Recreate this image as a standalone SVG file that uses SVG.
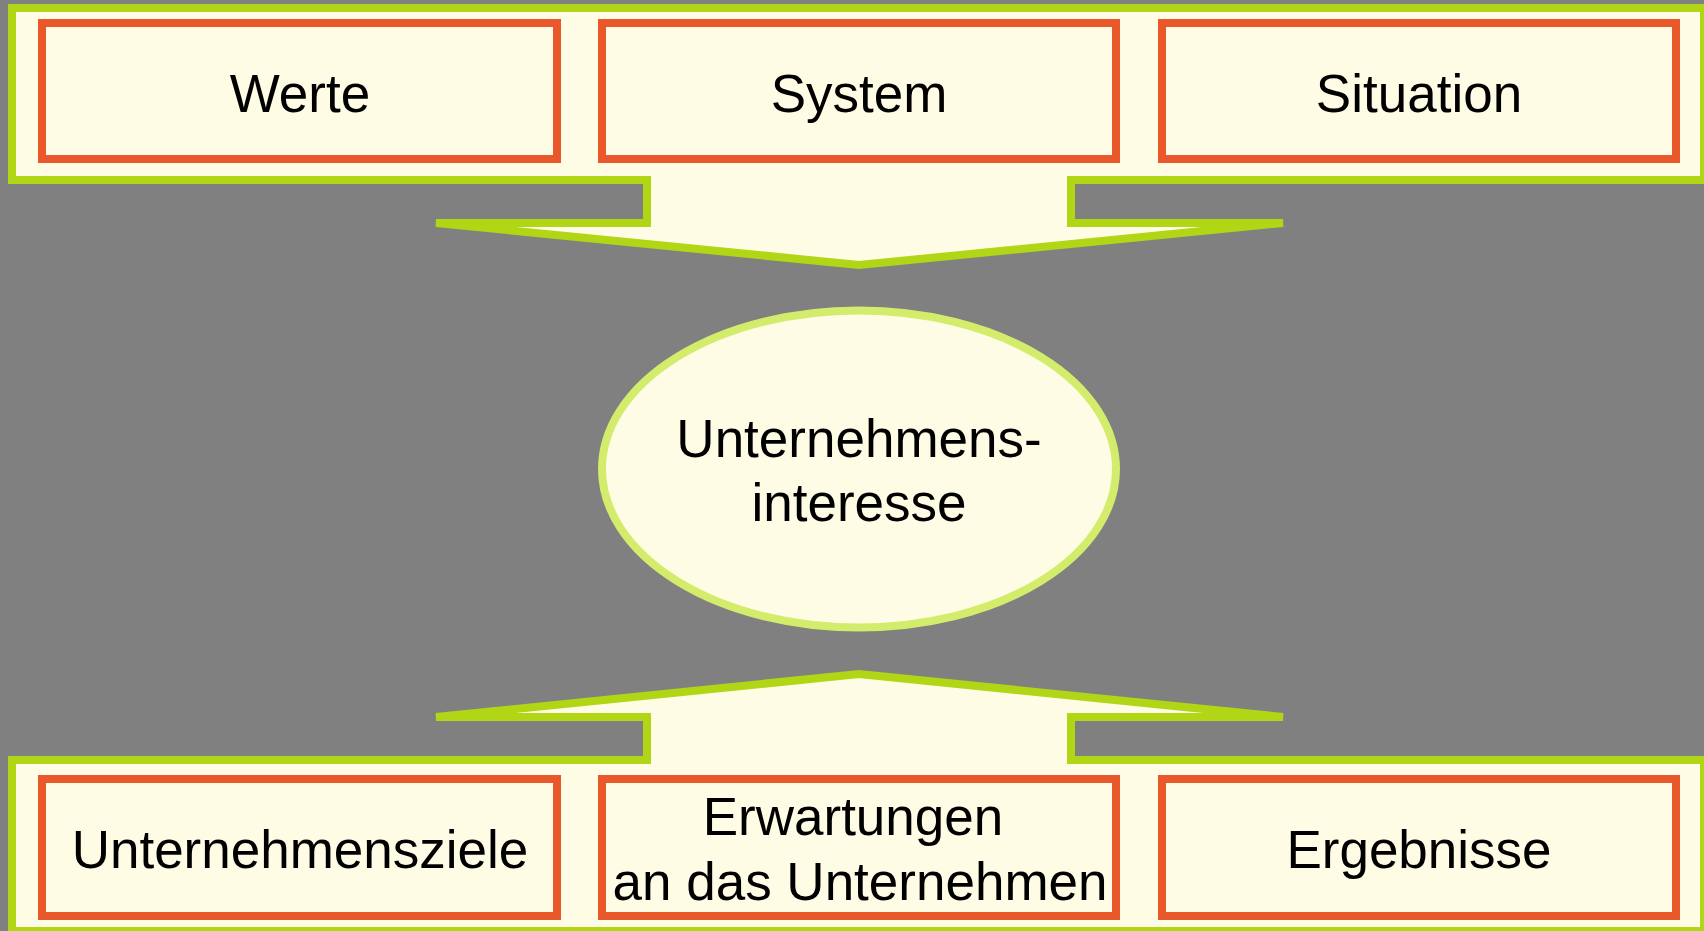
<svg xmlns="http://www.w3.org/2000/svg" width="1704" height="931" viewBox="0 0 1704 931">
  <style>
    .frame { fill: #fefce4; stroke: #b0d616; stroke-width: 8; stroke-linejoin: miter; }
    .box { fill: #fefce4; stroke: #e8582a; stroke-width: 8; }
    .core { fill: #fefce4; stroke: #d4ec6c; stroke-width: 8; }
    .label { font-family: "Liberation Sans", Arial, sans-serif; font-size: 53px; fill: #000; text-anchor: middle; }
  </style>

  <!-- background -->
  <rect x="0" y="0" width="1704" height="931" fill="#808080"/>

  <!-- connectors: framed bands with funnel arrows pointing to the centre -->
  <g id="connectors">
    <path id="band-top" class="frame" d="M12,8 H1704 V180 H1071 V223 H1283 L859,265 L436,223 H647 V180 H12 Z"/>
    <path id="band-bottom" class="frame" d="M12,931 H1704 V760 H1071 V717 H1283 L859,674 L436,717 H647 V760 H12 Z"/>
  </g>

  <!-- upper row -->
  <g id="node-werte">
    <rect class="box" x="42" y="23" width="515" height="136"/>
    <text class="label" x="300" y="112">Werte</text>
  </g>
  <g id="node-system">
    <rect class="box" x="602" y="23" width="514" height="136"/>
    <text class="label" x="859" y="112">System</text>
  </g>
  <g id="node-situation">
    <rect class="box" x="1162" y="23" width="514" height="136"/>
    <text class="label" x="1419" y="112">Situation</text>
  </g>

  <!-- centre -->
  <g id="node-interesse">
    <ellipse class="core" cx="859" cy="469" rx="257" ry="158.5"/>
    <text class="label" x="859" y="457">Unternehmens-</text>
    <text class="label" x="859" y="521">interesse</text>
  </g>

  <!-- lower row -->
  <g id="node-ziele">
    <rect class="box" x="42" y="779" width="515" height="137"/>
    <text class="label" x="300" y="868">Unternehmensziele</text>
  </g>
  <g id="node-erwartungen">
    <rect class="box" x="602" y="779" width="514" height="137"/>
    <text class="label" x="853" y="835">Erwartungen</text>
    <text class="label" x="860" y="900">an das Unternehmen</text>
  </g>
  <g id="node-ergebnisse">
    <rect class="box" x="1162" y="779" width="514" height="137"/>
    <text class="label" x="1419" y="868">Ergebnisse</text>
  </g>
</svg>
